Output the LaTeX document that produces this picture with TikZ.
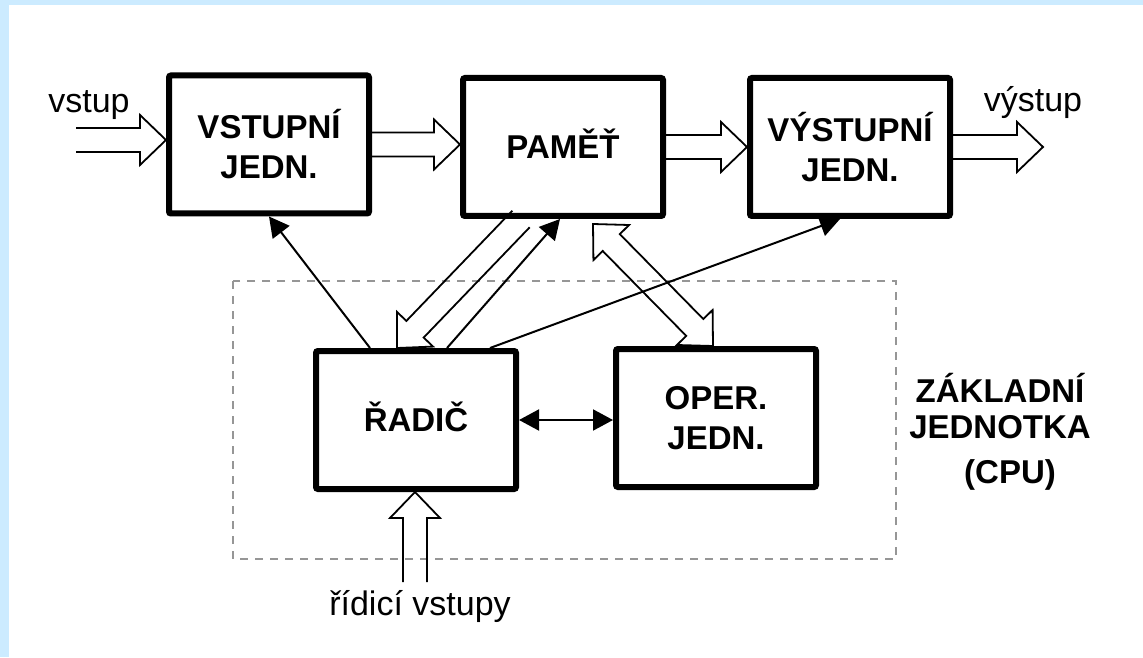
\documentclass[tikz,border=0pt]{standalone}
\usepackage{fontspec}
\setmainfont{Liberation Sans}
\usetikzlibrary{arrows.meta,calc,positioning}

\definecolor{framebg}{RGB}{204,235,255}
\definecolor{cpugray}{RGB}{150,150,150}

% hollow block arrow from #1 to #2, open at the tail
\newcommand{\blockarrow}[2]{%
  \draw[hollow] ($(#1)!6pt!90:(#2)$)
    -- ($(#2)!13pt!(#1)!6pt!-90:(#1)$)
    -- ($(#2)!13pt!(#1)!12.5pt!-90:(#1)$)
    -- (#2)
    -- ($(#2)!13pt!(#1)!12.5pt!90:(#1)$)
    -- ($(#2)!13pt!(#1)!6pt!90:(#1)$)
    -- ($(#1)!6pt!-90:(#2)$);
}
% the same with a head on both ends
\newcommand{\blockarrowboth}[2]{%
  \draw[hollow] (#1)
    -- ($(#1)!13pt!(#2)!12.5pt!90:(#2)$)
    -- ($(#1)!13pt!(#2)!6pt!90:(#2)$)
    -- ($(#2)!13pt!(#1)!6pt!-90:(#1)$)
    -- ($(#2)!13pt!(#1)!12.5pt!-90:(#1)$)
    -- (#2)
    -- ($(#2)!13pt!(#1)!12.5pt!90:(#1)$)
    -- ($(#2)!13pt!(#1)!6pt!90:(#1)$)
    -- ($(#1)!13pt!(#2)!6pt!-90:(#2)$)
    -- ($(#1)!13pt!(#2)!12.5pt!-90:(#2)$)
    -- cycle;
}

\begin{document}
\begin{tikzpicture}[x=0.5pt, y=-0.5pt,
    unit/.style={draw, line width=3pt, fill=white, rounded corners=1pt,
      minimum width=100pt, minimum height=69pt, align=center,
      font=\bfseries\fontsize{16.5}{20}\selectfont},
    oneline/.style={text height=11.8pt, text depth=0pt},
    ctrl/.style={line width=1pt, -{Triangle[length=10pt,width=10.5pt]}},
    ctrlboth/.style={line width=1pt,
      {Triangle[length=10pt,width=10.5pt]}-{Triangle[length=10pt,width=10.5pt]}},
    hollow/.style={line width=0.9pt},
    lbl/.style={font=\fontsize{17}{20}\selectfont, inner sep=0pt},
    cpuframe/.style={cpugray, line width=0.8pt, dash pattern=on 4pt off 3.5pt}]

  \useasboundingbox (0,0) rectangle (1143,657);
  \fill[white] (0,0) rectangle (1143,657);
  \fill[framebg] (0,0) rectangle (1143,5);
  \fill[framebg] (0,0) rectangle (9,657);

  \draw[cpuframe] (233,281) rectangle (896,559);

  \node[unit] (vstup) at (269,144.5) {VSTUPNÍ\\JEDN.};
  \node[unit, oneline] (pamet) at (563,147) {PAMĚŤ};
  \node[unit] (vystup) at (850,147) {VÝSTUPNÍ\\JEDN.};
  \node[unit, oneline] (radic) at (416,420) {ŘADIČ};
  \node[unit] (oper) at (716,418) {OPER.\\JEDN.};

  \node[align=center, font=\bfseries\fontsize{16.5}{18}\selectfont] (cpu) at (1000,432)
    {ZÁKLADNÍ\\JEDNOTKA\\[4.5pt]\hspace*{10pt}(CPU)};

  \node[lbl, anchor=base] (vstuplbl) at (89,113) {vstup};
  \node[lbl, anchor=base] (vystuplbl) at (1033,112) {výstup};
  \node[lbl, anchor=base] (ctllbl) at (420,615) {řídicí vstupy};

  % data paths
  \coordinate (in) at (76,140);
  \coordinate (out) at (1043,147);
  \coordinate (ctl) at (415,582);
  \coordinate (in1) at (in -| vstup.west);
  \coordinate (m1) at (vstup.east -| pamet.west);
  \coordinate (m2) at (pamet.east -| vystup.west);
  \coordinate (ctl1) at (ctl |- radic.south);
  \coordinate (mdown) at ([xshift=-21pt]pamet.south);
  \coordinate (rdown) at ([xshift=-9.5pt]radic.north);
  \coordinate (mop) at ([xshift=15pt,yshift=-2.5pt]pamet.south);
  \coordinate (opm) at ([xshift=-1.5pt]oper.north);

  \blockarrow{in}{in1}
  \blockarrow{vstup.east}{m1}
  \blockarrow{pamet.east}{m2}
  \blockarrow{vystup.east}{out}
  \blockarrow{mdown}{rdown}
  \blockarrow{ctl}{ctl1}
  \blockarrowboth{mop}{opm}

  % control lines
  \draw[ctrl] ([xshift=-23pt]radic.north) -- (vstup.south);
  \draw[ctrl] ([xshift=15.5pt]radic.north) -- ([xshift=-1.5pt]pamet.south);
  \draw[ctrl] ([xshift=37pt]radic.north) -- ([xshift=-5pt]vystup.south);
  \draw[ctrlboth] (radic.east) -- (radic.east -| oper.west);

\end{tikzpicture}
\end{document}
